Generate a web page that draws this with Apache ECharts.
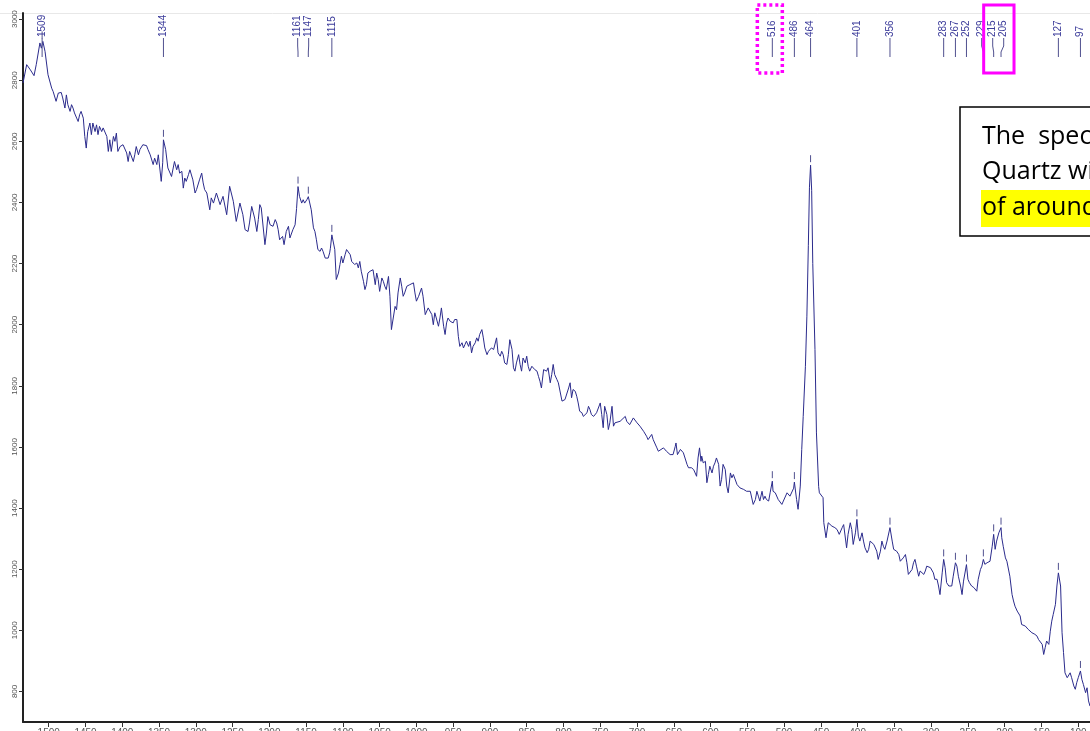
<!DOCTYPE html>
<html>
<head>
<meta charset="utf-8">
<title>Raman spectrum - Quartz</title>
<script src="https://cdn.jsdelivr.net/npm/echarts@6.0.0/dist/echarts.min.js"></script>
<style>
html, body { margin: 0; padding: 0; background: #fff; }
#chart { width: 1090px; height: 731px; }
</style>
</head>
<body>
<div id="chart"></div>
<script>
// raman shift (cm-1) and intensity, high -> low shift
var ramanShift = [
  1535,1530,1525,1520,1517,1515,1512,1510,1508,1505,
  1501,1499,1496,1494,1492,1490,1487,1485,1483,1481,
  1478,1476,1474,1471,1469,1467,1465,1462,1460,1458,
  1456,1453,1451,1449,1447,1444,1442,1440,1437,1435,
  1433,1431,1428,1426,1421,1419,1417,1415,1412,1410,
  1408,1406,1403,1399,1394,1392,1390,1385,1383,1381,
  1378,1376,1372,1367,1365,1362,1358,1356,1353,1351,
  1349,1347,1345,1344,1341,1338,1333,1329,1326,1324,
  1322,1319,1317,1315,1313,1310,1308,1306,1304,1301,
  1299,1295,1292,1290,1288,1285,1281,1279,1276,1272,
  1267,1263,1258,1254,1249,1245,1240,1236,1233,1229,
  1227,1224,1220,1217,1215,1213,1211,1206,1204,1202,
  1199,1195,1192,1190,1188,1186,1182,1180,1177,1174,
  1172,1170,1168,1165,1163,1161,1159,1156,1154,1152,
  1149,1147,1143,1140,1138,1136,1134,1131,1129,1127,
  1124,1122,1120,1118,1117,1115,1111,1109,1106,1104,
  1102,1100,1097,1095,1093,1090,1088,1086,1084,1081,
  1079,1077,1075,1072,1070,1068,1066,1063,1061,1059,
  1056,1054,1052,1050,1047,1045,1043,1041,1038,1036,
  1034,1032,1029,1027,1025,1022,1020,1018,1016,1013,
  1011,1009,1007,1004,1002,1000,997,993,991,988,
  986,984,982,979,977,975,973,970,968,966,
  963,961,959,957,954,952,950,948,945,943,
  941,938,936,934,932,929,927,925,923,920,
  918,916,914,911,909,907,904,902,900,898,
  895,893,891,889,886,884,882,880,877,875,
  873,870,868,866,864,861,859,857,855,852,
  850,848,846,843,841,839,836,834,832,830,
  827,825,823,821,818,816,814,812,809,807,
  805,802,800,798,796,793,791,789,787,784,
  782,780,778,775,773,768,766,764,762,759,
  755,750,748,746,744,741,739,737,734,732,
  730,728,723,721,716,714,710,705,703,700,
  698,696,691,689,687,685,680,678,673,671,
  669,664,662,660,655,651,648,647,645,644,
  641,639,637,632,630,628,626,623,621,619,
  617,615,613,612,610,607,605,603,601,598,
  596,594,592,589,587,585,583,580,578,576,
  573,571,569,567,564,562,560,555,551,546,
  542,539,537,535,533,530,528,526,524,521,
  519,516,515,512,508,503,501,496,494,492,
  490,487,486,483,481,478,476,474,471,469,
  467,465.5,464,462.5,461,458,456,453,452,447,
  446,443,440,435,431,428,425,421,419,415,
  413,410,408,406,403,401,399,397,394,392,
  390,387,385,383,381,378,376,374,372,369,
  367,365,363,360,356,353,351,347,344,342,
  340,338,335,333,331,329,326,324,322,320,
  317,315,313,310,308,306,301,299,297,295,
  292,290,288,285,283,281,279,276,274,272,
  270,267,265,263,260,258,256,252,250,248,
  247,245,242,240,238,236,233,231,229,227,
  224,222,220,217,215,213,211,208,205,204,
  202,199,197,195,193,190,188,186,183,181,
  179,177,172,168,163,159,156,154,152,149,
  147,145,143,140,138,136,134,131,129,127,
  124,122,120,118,115,113,111,109,106,104,
  102,100,97,95,93,90,88,86,84
];
var intensity = [
  2791,2851,2834,2815,2851,2845,2922,2905,2927,2894,
  2818,2812,2774,2763,2769,2731,2758,2752,2760,2742,
  2709,2752,2720,2698,2720,2709,2693,2676,2665,2687,
  2698,2676,2616,2578,2632,2660,2622,2660,2632,2654,
  2622,2649,2632,2644,2616,2567,2605,2567,2616,2600,
  2627,2567,2583,2589,2562,2534,2567,2534,2556,2583,
  2556,2573,2589,2586,2573,2556,2524,2545,2524,2556,
  2562,2469,2530,2605,2573,2513,2485,2534,2507,2524,
  2496,2502,2447,2480,2469,2491,2507,2502,2474,2431,
  2442,2474,2496,2464,2442,2431,2376,2415,2398,2431,
  2393,2420,2360,2453,2404,2338,2398,2360,2311,2305,
  2333,2387,2349,2305,2344,2393,2382,2262,2300,2354,
  2327,2322,2344,2333,2311,2278,2289,2262,2305,2322,
  2284,2278,2311,2327,2380,2452,2420,2398,2409,2398,
  2409,2419,2376,2317,2305,2278,2246,2240,2251,2240,
  2218,2224,2218,2235,2250,2294,2246,2148,2169,2197,
  2224,2202,2229,2246,2251,2229,2207,2202,2197,2202,
  2186,2207,2175,2142,2115,2131,2169,2175,2175,2180,
  2131,2169,2148,2109,2153,2142,2126,2115,2158,2093,
  1984,1984,2060,2049,2104,2153,2126,2093,2104,2126,
  2120,2131,2126,2137,2104,2077,2093,2120,2093,2033,
  2039,2055,2060,2033,2000,2039,2022,1995,2022,2055,
  1995,1968,2006,2022,2011,2017,2006,2017,2017,1962,
  1929,1941,1924,1935,1946,1929,1946,1908,1929,1941,
  1957,1946,1968,1984,1957,1924,1902,1913,1913,1924,
  1919,1924,1957,1908,1897,1913,1902,1875,1870,1902,
  1951,1919,1859,1848,1875,1902,1870,1848,1891,1875,
  1897,1864,1848,1864,1859,1853,1848,1831,1815,1793,
  1853,1859,1848,1859,1810,1837,1870,1837,1821,1810,
  1810,1750,1744,1755,1761,1793,1810,1761,1788,1782,
  1766,1744,1717,1712,1700,1712,1733,1722,1706,1700,
  1712,1744,1706,1663,1733,1706,1657,1679,1733,1668,
  1679,1684,1684,1690,1700,1684,1673,1695,1690,1679,
  1684,1668,1651,1651,1635,1624,1641,1624,1597,1586,
  1581,1597,1602,1586,1575,1575,1602,1613,1575,1570,
  1592,1586,1581,1543,1532,1526,1532,1526,1515,1504,
  1564,1597,1553,1570,1548,1553,1483,1510,1537,1515,
  1537,1548,1564,1543,1472,1494,1543,1526,1472,1450,
  1515,1499,1510,1510,1477,1472,1466,1461,1455,1455,
  1412,1428,1455,1439,1423,1455,1428,1439,1428,1423,
  1450,1488,1455,1450,1428,1412,1423,1450,1444,1439,
  1444,1465,1485,1428,1396,1472,1592,1700,1864,2028,
  2260,2450,2522,2440,2200,1919,1646,1470,1450,1434,
  1352,1303,1352,1341,1336,1330,1314,1336,1346,1270,
  1314,1352,1330,1281,1319,1363,1308,1292,1319,1292,
  1270,1254,1265,1292,1287,1281,1287,1259,1232,1259,
  1292,1275,1265,1292,1336,1292,1265,1259,1248,1226,
  1221,1237,1248,1221,1183,1177,1199,1221,1232,1210,
  1177,1194,1188,1183,1194,1210,1205,1199,1188,1167,
  1167,1145,1117,1188,1232,1205,1156,1145,1145,1145,
  1177,1221,1210,1177,1145,1117,1161,1215,1167,1156,
  1150,1145,1140,1145,1128,1167,1199,1210,1232,1216,
  1221,1221,1226,1275,1314,1265,1292,1319,1336,1303,
  1275,1237,1226,1221,1177,1117,1096,1079,1063,1057,
  1047,1019,1014,1003,992,987,981,970,976,954,
  921,943,965,954,997,1030,1052,1085,1145,1188,
  1145,992,927,861,845,850,861,845,818,807,
  829,845,867,839,823,796,812,769,752
];

// labelled peaks
var peakShift  = [1509,1344,1161,1147,1115,516,486,464,401,356,283,267,252,229,215,205,127,97];
var peakHeight = [2927,2605,2452,2419,2294,1488,1485,2522,1363,1336,1232,1221,1215,1232,1314,1336,1188,867];

var xTicks = [1500,1450,1400,1350,1300,1250,1200,1150,1100,1050,1000,950,900,850,800,750,700,650,600,550,500,450,400,350,300,250,200,150,100];
var yTicks = [800,1000,1200,1400,1600,1800,2000,2200,2400,2600,2800,3000];

var noteLines = ['The  spectrum of', 'Quartz with', 'of around'];

var yMin = 700, yMax = 3020;

var spectrum = ramanShift.map(function (s, i) { return [s, intensity[i]]; });
var peaks = peakShift.map(function (s, i) { return [s, peakHeight[i]]; });

var chart = echarts.init(document.getElementById('chart'));

// spread the peak labels so neighbouring ones don't overlap
var labelX = null;
function spreadLabels(api) {
  var items = peakShift.map(function (s, i) {
    return { i: i, p: api.coord([s, yMax])[0] };
  });
  items.sort(function (a, b) { return a.p - b.p; });
  var pos = items.map(function (d) { return d.p; });
  var gap = 11;
  for (var k = 0; k < 60; k++) {
    for (var j = 1; j < pos.length; j++) {
      var d = pos[j] - pos[j - 1];
      if (d < gap) {
        var sh = (gap - d) / 2;
        pos[j - 1] -= sh;
        pos[j] += sh;
      }
    }
  }
  var out = [];
  items.forEach(function (d, j) { out[d.i] = pos[j]; });
  return out;
}

var option = {
  animation: false,
  backgroundColor: '#fff',
  grid: { left: 23, right: 0, top: 13, bottom: 9, outerBoundsMode: 'none' },
  xAxis: {
    type: 'value',
    inverse: true,
    min: 84,
    max: 1535,
    splitLine: { show: false },
    axisLine: { onZero: false, lineStyle: { color: '#222', width: 2 } },
    axisTick: { customValues: xTicks, length: 5, lineStyle: { color: '#333' } },
    axisLabel: {
      customValues: xTicks, color: '#555', fontSize: 10, margin: 6, fontFamily: 'Liberation Sans',
      formatter: function (v) { return String(v); }
    }
  },
  yAxis: {
    type: 'value',
    min: yMin,
    max: yMax,
    splitLine: { show: false },
    axisLine: { show: true, lineStyle: { color: '#222', width: 2 } },
    axisTick: { show: true, customValues: yTicks, length: 4, lineStyle: { color: '#333' } },
    axisLabel: {
      customValues: yTicks, rotate: 90, color: '#555', fontSize: 8, margin: 4, fontFamily: 'Liberation Sans',
      formatter: function (v) { return String(v); }
    }
  },
  series: [
    {
      type: 'line',
      data: spectrum,
      showSymbol: false,
      symbol: 'none',
      sampling: null,
      lineStyle: { color: '#2b2b8c', width: 1 },
      z: 3
    },
    {
      type: 'custom',
      data: peaks,
      encode: { x: 0, y: 1 },
      z: 4,
      renderItem: function (params, api) {
        if (params.dataIndex === 0 || !labelX) labelX = spreadLabels(api);
        var s = api.value(0);
        var tip = api.coord([s, api.value(1)]);
        var top = api.coord([s, yMax])[1];
        var lx = labelX[params.dataIndex];
        var stroke = '#50508f';
        return {
          type: 'group',
          children: [
            { type: 'polyline',
              shape: { points: [[lx, top + 25], [lx, top + 33], [tip[0], top + 39], [tip[0], top + 44]] },
              style: { stroke: stroke, lineWidth: 1, fill: null } },
            { type: 'line', shape: { x1: tip[0], y1: tip[1] - 3, x2: tip[0], y2: tip[1] - 10 },
              style: { stroke: stroke, lineWidth: 1 } },
            { type: 'text', x: lx, y: top + 24, rotation: Math.PI / 2,
              style: { text: String(s), fill: '#3b3b9a', font: '10px "Liberation Sans"',
                       textAlign: 'left', textVerticalAlign: 'middle' } }
          ]
        };
      }
    }
  ]
};
chart.setOption(option);

// annotation overlay
function px(v) { return chart.convertToPixel({ xAxisIndex: 0 }, v); }
var x516 = px(516), x215 = px(215), x205 = px(205);

chart.setOption({
  graphic: [
    { type: 'line', z: 0, shape: { x1: 0, y1: 13.5, x2: 1090, y2: 13.5 },
      style: { stroke: '#e8e8e8', lineWidth: 1 } },
    { type: 'rect', z: 10, shape: { x: 960, y: 107, width: 160, height: 129 },
      style: { fill: '#fff', stroke: '#000', lineWidth: 1.5 } },
    { type: 'rect', z: 11, shape: { x: 981, y: 190, width: 120, height: 37 },
      style: { fill: '#ffff00' } },
    { type: 'text', z: 12, x: 982, y: 136.5,
      style: { text: noteLines[0], font: '25px "Open Sans"', fill: '#000', textVerticalAlign: 'middle' } },
    { type: 'text', z: 12, x: 982, y: 171.5,
      style: { text: noteLines[1], font: '25px "Open Sans"', fill: '#000', textVerticalAlign: 'middle' } },
    { type: 'text', z: 12, x: 982, y: 207.5,
      style: { text: noteLines[2], font: '25px "Open Sans"', fill: '#000', textVerticalAlign: 'middle' } },
    { type: 'rect', z: 12, shape: { x: x516 - 15, y: 5, width: 25, height: 68 },
      style: { fill: 'none', stroke: '#ff00ff', lineWidth: 3.5, lineDash: [3, 3] } },
    { type: 'rect', z: 12, shape: { x: x215 - 10, y: 5, width: (x205 - x215) + 23, height: 68 },
      style: { fill: 'none', stroke: '#ff00ff', lineWidth: 3 } }
  ]
});
</script>
</body>
</html>
